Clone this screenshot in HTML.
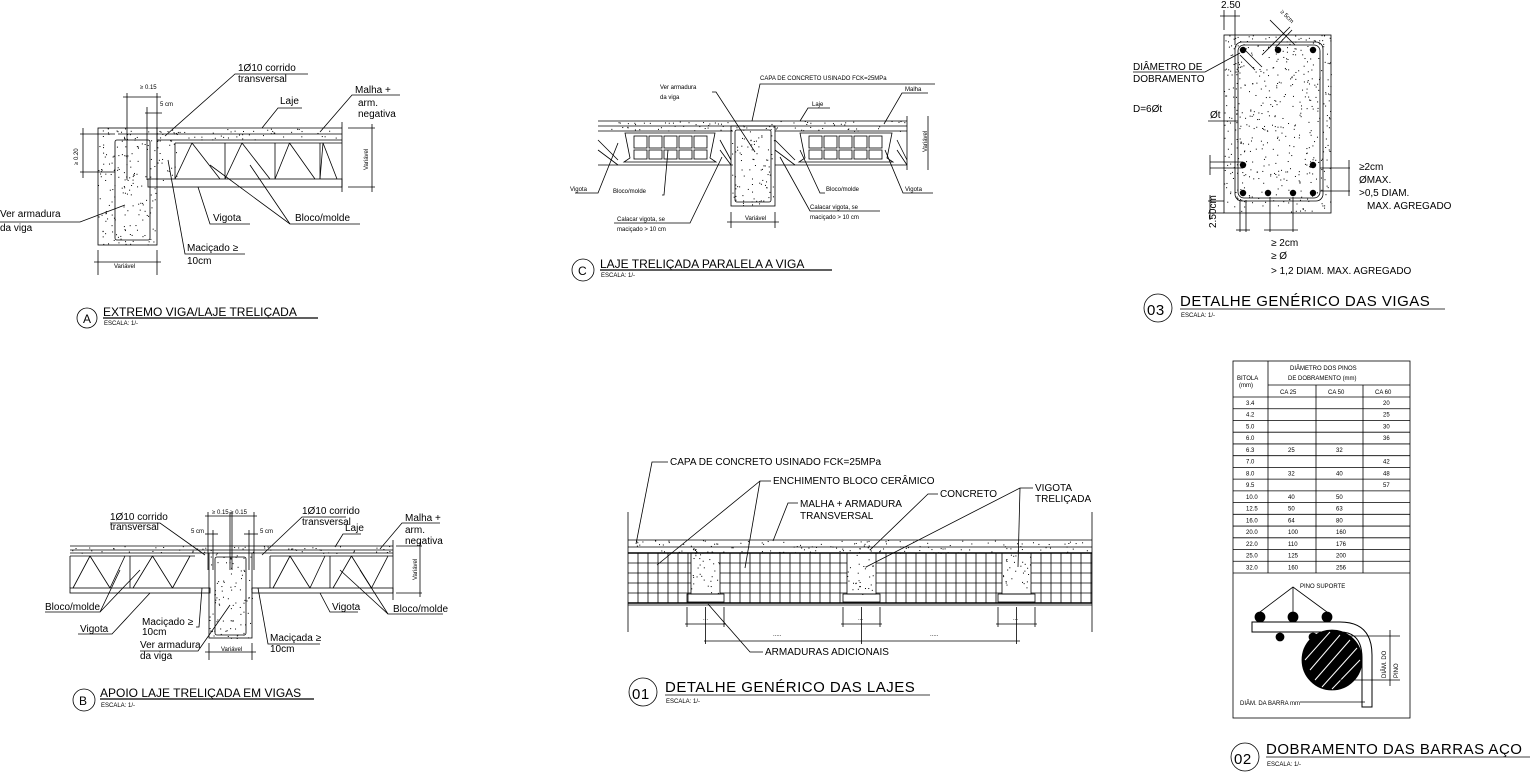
<!DOCTYPE html>
<html><head><meta charset="utf-8"><style>
html,body{margin:0;padding:0;background:#fff;}
svg{display:block;font-family:"Liberation Sans",sans-serif;}
text{fill:#000;}
.s{font-size:10px;}
.xs{font-size:6px;}
.t{font-size:12px;}
.tb{font-size:15px;letter-spacing:0.5px;}
</style></head><body>
<svg id="d" width="1535" height="775" viewBox="0 0 1535 775" stroke="#000" fill="none" stroke-width="0.8">
<!-- ===== A ===== -->
<g id="A">
<rect x="98" y="128" width="59" height="117"/>
<rect x="115" y="140" width="35" height="100" rx="2"/>
<line x1="157" y1="128" x2="342" y2="128"/>
<line x1="118" y1="134" x2="342" y2="134"/>
<line x1="157" y1="140" x2="342" y2="140"/>
<rect x="148" y="179" width="194" height="8"/>
<line x1="175" y1="143" x2="342" y2="143"/>
<line x1="342" y1="122" x2="342" y2="192"/>
<line x1="348" y1="128" x2="375" y2="128"/><line x1="348" y1="187" x2="375" y2="187"/>
<line x1="372" y1="124" x2="372" y2="192"/>
<text class="xs" transform="translate(368,170) rotate(-90)" stroke="none">Variável</text>
<line x1="98" y1="250" x2="98" y2="275"/><line x1="157" y1="250" x2="157" y2="275"/>
<line x1="94" y1="262" x2="161" y2="262"/>
<text class="xs" x="114" y="268" stroke="none">Variável</text>
<line x1="80" y1="134" x2="115" y2="134"/><line x1="80" y1="172" x2="115" y2="172"/>
<line x1="83" y1="128" x2="83" y2="178"/>
<text class="xs" transform="translate(78,165) rotate(-90)" stroke="none">≥ 0.20</text>
<line x1="127" y1="93" x2="127" y2="180"/><line x1="157" y1="93" x2="157" y2="180"/>
<line x1="123" y1="97" x2="161" y2="97"/>
<text class="xs" x="140" y="89" stroke="none">≥ 0.15</text>
<line x1="147" y1="107" x2="147" y2="180"/>
<line x1="145" y1="113" x2="162" y2="113"/>
<text class="xs" x="160" y="106" stroke="none">5 cm</text>
<text class="s" x="238" y="71" stroke="none">1Ø10 corrido</text>
<text class="s" x="238" y="82" stroke="none">transversal</text>
<polyline points="308,74 235,74 165,136"/>
<text class="s" x="280" y="104" stroke="none">Laje</text>
<polyline points="302,108 278,108 262,128"/>
<text class="s" x="355" y="93" stroke="none">Malha +</text>
<text class="s" x="358" y="106" stroke="none">arm.</text>
<text class="s" x="358" y="117" stroke="none">negativa</text>
<polyline points="400,95 352,95 320,132"/>
<text class="s" x="0" y="217" stroke="none">Ver armadura</text>
<text class="s" x="0" y="231" stroke="none">da viga</text>
<polyline points="0,222 80,222 125,205"/>
<text class="s" x="213" y="221" stroke="none">Vigota</text>
<polyline points="250,224 210,224 198,187"/>
<text class="s" x="295" y="221" stroke="none">Bloco/molde</text>
<polyline points="360,224 290,224 210,165"/><line x1="290" y1="224" x2="250" y2="165"/>
<text class="s" x="187" y="251" stroke="none">Maciçado  ≥</text>
<text class="s" x="187" y="264" stroke="none">10cm</text>
<polyline points="245,254 185,254 168,160"/>
<circle cx="87" cy="318" r="10"/>
<text class="t" x="83" y="323" stroke="none">A</text>
<text class="t" x="103" y="316" stroke="none">EXTREMO VIGA/LAJE TRELIÇADA</text>
<line x1="103" y1="318" x2="318" y2="318" stroke-width="1.2"/>
<text class="xs" x="104" y="325" stroke="none">ESCALA: 1/-</text>
</g>
<!-- ===== C ===== -->
<g>
<line x1="598" y1="121" x2="907" y2="121"/><line x1="598" y1="126" x2="907" y2="126"/>
<line x1="598" y1="131" x2="733" y2="131"/><line x1="775" y1="131" x2="907" y2="131"/>
<line x1="598" y1="165" x2="733" y2="165"/><line x1="775" y1="165" x2="907" y2="165"/>
<rect x="731" y="126" width="44" height="80"/>
<rect x="735" y="130" width="36" height="72" rx="2"/>
<g id="blkC"></g>
<line x1="907" y1="116" x2="907" y2="170"/>
<line x1="928" y1="116" x2="928" y2="170"/>
<text class="xs" transform="translate(927,152) rotate(-90)" stroke="none">Variável</text>
<line x1="731" y1="212" x2="731" y2="228"/><line x1="775" y1="212" x2="775" y2="228"/>
<line x1="727" y1="222" x2="779" y2="222"/>
<text class="xs" x="745" y="220" stroke="none">Variável</text>
<text class="xs" x="660" y="89" stroke="none" font-size="7">Ver armadura</text>
<text class="xs" x="660" y="99" stroke="none" font-size="7">da viga</text>
<polyline points="712,92 716,92 755,152"/>
<text class="xs" x="760" y="80" stroke="none" font-size="8">CAPA DE CONCRETO USINADO FCK=25MPa</text>
<polyline points="935,84 760,84 752,121"/>
<text class="xs" x="812" y="106" stroke="none" font-size="8">Laje</text>
<polyline points="830,108 808,108 800,121"/>
<text class="xs" x="905" y="91" stroke="none" font-size="8">Malha</text>
<polyline points="928,93 902,93 884,124"/>
<text class="xs" x="570" y="191" stroke="none" font-size="8">Vigota</text>
<polyline points="575,193 598,193 618,143"/>
<text class="xs" x="613" y="193" stroke="none" font-size="7">Bloco/molde</text>
<polyline points="662,195 664,195 668,150"/>
<text class="xs" x="826" y="191" stroke="none" font-size="8">Bloco/molde</text>
<polyline points="825,193 820,193 800,150"/>
<text class="xs" x="905" y="191" stroke="none" font-size="8">Vigota</text>
<polyline points="933,193 903,193 885,150"/>
<text class="xs" x="617" y="221" stroke="none" font-size="7">Calacar vigota, se</text>
<text class="xs" x="617" y="231" stroke="none" font-size="7">maciçado &gt; 10 cm</text>
<polyline points="614,223 690,223 722,157"/>
<text class="xs" x="810" y="209" stroke="none" font-size="7">Calacar vigota, se</text>
<text class="xs" x="810" y="219" stroke="none" font-size="7">maciçado &gt; 10 cm</text>
<polyline points="880,211 810,211 780,157"/>
<circle cx="583" cy="270" r="11"/>
<text class="t" x="578" y="275" stroke="none">C</text>
<text class="t" x="600" y="268" stroke="none">LAJE TRELIÇADA PARALELA A VIGA</text>
<line x1="600" y1="270" x2="832" y2="270" stroke-width="1.2"/>
<text class="xs" x="601" y="277" stroke="none">ESCALA: 1/-</text>
</g>
<!-- ===== 03 ===== -->
<g>
<rect x="1224" y="35" width="107" height="178"/>
<rect x="1235" y="42" width="88" height="159" rx="7"/>
<rect x="1238" y="45" width="82" height="153" rx="6"/>
<g fill="#000" stroke="none">
<circle cx="1243" cy="50" r="3.2"/><circle cx="1278" cy="50" r="3.2"/><circle cx="1313" cy="50" r="3.2"/>
<circle cx="1243" cy="165" r="3.2"/><circle cx="1313" cy="165" r="3.2"/>
<circle cx="1243" cy="193" r="3.2"/><circle cx="1268" cy="193" r="3.2"/><circle cx="1293" cy="193" r="3.2"/><circle cx="1313" cy="193" r="3.2"/>
</g>
<line x1="1240" y1="55" x2="1255" y2="70"/><line x1="1245" y1="50" x2="1262" y2="67"/>
<line x1="1235" y1="10" x2="1235" y2="45"/><line x1="1224" y1="10" x2="1224" y2="30"/>
<line x1="1220" y1="16" x2="1240" y2="16"/>
<text class="s" x="1221" y="8" stroke="none">2.50</text>
<line x1="1262" y1="55" x2="1290" y2="27"/><line x1="1275" y1="48" x2="1292" y2="30"/>
<line x1="1270" y1="20" x2="1295" y2="45"/>
<text class="xs" transform="translate(1280,12) rotate(45)" stroke="none" font-size="8">≥ 5cm</text>
<text class="s" x="1133" y="70" stroke="none">DIÂMETRO  DE</text>
<text class="s" x="1133" y="82" stroke="none">DOBRAMENTO</text>
<polyline points="1133,72 1205,72 1240,53"/>
<text class="s" x="1133" y="112" stroke="none">D=6Øt</text>
<text class="s" x="1210" y="118" stroke="none">Øt</text>
<line x1="1208" y1="121" x2="1238" y2="121"/>
<line x1="1210" y1="162" x2="1243" y2="162"/><line x1="1210" y1="168" x2="1243" y2="168"/>
<line x1="1210" y1="155" x2="1210" y2="175"/>
<line x1="1320" y1="168" x2="1350" y2="168"/><line x1="1320" y1="191" x2="1350" y2="191"/>
<line x1="1349" y1="160" x2="1349" y2="196"/>
<text class="s" x="1359" y="170" stroke="none">≥2cm</text>
<text class="s" x="1359" y="183" stroke="none">ØMAX.</text>
<text class="s" x="1359" y="196" stroke="none">&gt;0,5  DIAM.</text>
<text class="s" x="1367" y="209" stroke="none">MAX.  AGREGADO</text>
<line x1="1208" y1="201" x2="1224" y2="201"/><line x1="1208" y1="213" x2="1224" y2="213"/>
<line x1="1210" y1="195" x2="1210" y2="220"/>
<text class="s" transform="translate(1216,228) rotate(-90)" stroke="none">2.50cm</text>
<line x1="1240" y1="200" x2="1240" y2="232"/><line x1="1246" y1="200" x2="1246" y2="232"/>
<line x1="1270" y1="197" x2="1270" y2="232"/><line x1="1293" y1="197" x2="1293" y2="232"/>
<line x1="1264" y1="230" x2="1298" y2="230"/><line x1="1236" y1="230" x2="1250" y2="230"/>
<text class="s" x="1271" y="246" stroke="none">≥  2cm</text>
<text class="s" x="1271" y="259" stroke="none">≥  Ø</text>
<text class="s" x="1271" y="274" stroke="none">&gt;  1,2  DIAM.  MAX.  AGREGADO</text>
<circle cx="1158" cy="308" r="14"/>
<text class="tb" x="1147" y="315" stroke="none">03</text>
<text class="tb" x="1180" y="306" stroke="none">DETALHE GENÉRICO DAS VIGAS</text>
<line x1="1180" y1="309" x2="1445" y2="309"/>
<text class="xs" x="1181" y="317" stroke="none">ESCALA: 1/-</text>
</g>
<!-- ===== 02 table ===== -->
<g>
<rect x="1233" y="361" width="177" height="357"/>
<line x1="1268" y1="361" x2="1268" y2="573"/>
<line x1="1316" y1="385" x2="1316" y2="573"/>
<line x1="1363" y1="385" x2="1363" y2="573"/>
<line x1="1268" y1="385" x2="1410" y2="385"/>
<line x1="1233" y1="397" x2="1410" y2="397"/>
<line x1="1233" y1="573" x2="1410" y2="573"/>
<g id="rows"></g>
<text class="xs" x="1290" y="370" stroke="none">DIÂMETRO DOS PINOS</text>
<text class="xs" x="1288" y="380" stroke="none">DE DOBRAMENTO (mm)</text>
<text class="xs" x="1237" y="380" stroke="none">BITOLA</text>
<text class="xs" x="1239" y="387" stroke="none">(mm)</text>
<text class="xs" x="1280" y="394" stroke="none" font-size="8">CA 25</text>
<text class="xs" x="1328" y="394" stroke="none" font-size="8">CA 50</text>
<text class="xs" x="1375" y="394" stroke="none" font-size="8">CA 60</text>
<g id="cells" class="xs" stroke="none"></g>
<path d="M1252,622 L1340,622 Q1372,622 1372,655 L1372,707 L1362,707 L1362,658 Q1362,632 1340,632 L1252,632 Z" stroke-width="1"/>
<circle cx="1332" cy="660" r="30" fill="#000"/>
<g stroke="#fff" stroke-width="1">
<line x1="1310" y1="670" x2="1340" y2="635"/><line x1="1315" y1="680" x2="1350" y2="640"/><line x1="1322" y1="687" x2="1357" y2="648"/><line x1="1332" y1="689" x2="1360" y2="660"/><line x1="1305" y1="660" x2="1330" y2="632"/>
</g>
<g fill="#000"><circle cx="1260" cy="617" r="5"/><circle cx="1293" cy="617" r="5"/><circle cx="1327" cy="617" r="5"/><circle cx="1280" cy="637" r="4"/><circle cx="1313" cy="637" r="4"/></g>
<polyline points="1260,612 1293,587 1327,612"/><line x1="1293" y1="587" x2="1293" y2="612"/>
<text class="xs" x="1300" y="588" stroke="none">PINO SUPORTE</text>
<line x1="1340" y1="636" x2="1400" y2="636"/><line x1="1340" y1="680" x2="1400" y2="680"/>
<line x1="1390" y1="630" x2="1390" y2="686"/>
<text class="xs" transform="translate(1386,678) rotate(-90)" stroke="none">DIÂM. DO</text>
<text class="xs" transform="translate(1398,678) rotate(-90)" stroke="none">PINO</text>
<text class="xs" x="1240" y="705" stroke="none">DIÂM. DA BARRA mm</text>
<line x1="1300" y1="702" x2="1365" y2="702"/>
<circle cx="1245" cy="757" r="14"/>
<text class="tb" x="1234" y="764" stroke="none">02</text>
<text class="tb" x="1266" y="754" stroke="none">DOBRAMENTO DAS BARRAS AÇO</text>
<line x1="1266" y1="757" x2="1530" y2="757"/>
<text class="xs" x="1267" y="766" stroke="none">ESCALA: 1/-</text>
</g>
<!-- ===== 01 ===== -->
<g>
<line x1="628" y1="512" x2="628" y2="632"/><line x1="1092" y1="512" x2="1092" y2="632"/>
<line x1="628" y1="540" x2="1092" y2="540"/><line x1="628" y1="547" x2="1092" y2="547"/>
<line x1="628" y1="553" x2="1092" y2="553" stroke-width="1.4"/>
<line x1="628" y1="603" x2="1092" y2="603" stroke-width="1.4"/>
<line x1="628" y1="605" x2="1092" y2="605"/>
<g id="grid01"></g>
<text class="s" x="670" y="465" stroke="none">CAPA  DE  CONCRETO  USINADO  FCK=25MPa</text>
<polyline points="668,462 652,462 636,544"/>
<text class="s" x="773" y="484" stroke="none">ENCHIMENTO  BLOCO  CERÂMICO</text>
<polyline points="771,481 760,481 657,565"/><line x1="760" y1="481" x2="745" y2="568"/>
<text class="s" x="800" y="507" stroke="none">MALHA  +  ARMADURA</text>
<text class="s" x="800" y="519" stroke="none">TRANSVERSAL</text>
<polyline points="798,503 788,503 773,541"/>
<text class="s" x="940" y="497" stroke="none">CONCRETO</text>
<polyline points="938,494 928,494 870,550"/>
<text class="s" x="1035" y="491" stroke="none">VIGOTA</text>
<text class="s" x="1035" y="502" stroke="none">TRELIÇADA</text>
<polyline points="1033,488 1020,488 866,567"/><line x1="1020" y1="488" x2="1018" y2="567"/>
<text class="s" x="765" y="655" stroke="none">ARMADURAS  ADICIONAIS</text>
<polyline points="763,652 750,652 708,604"/>
<g id="dim01"></g>
<text class="xs" x="703" y="620" stroke="none">...</text><text class="xs" x="858" y="620" stroke="none">...</text><text class="xs" x="1013" y="620" stroke="none">...</text>
<text class="xs" x="773" y="636" stroke="none">.....</text><text class="xs" x="930" y="636" stroke="none">.....</text>
<circle cx="643" cy="692" r="14"/>
<text class="tb" x="632" y="699" stroke="none">01</text>
<text class="tb" x="665" y="692" stroke="none">DETALHE GENÉRICO DAS LAJES</text>
<line x1="665" y1="695" x2="930" y2="695"/>
<text class="xs" x="666" y="703" stroke="none">ESCALA: 1/-</text>
</g>
<!-- ===== B ===== -->
<g>
<line x1="70" y1="546" x2="393" y2="546"/><line x1="70" y1="550" x2="393" y2="550"/>
<line x1="70" y1="553" x2="209" y2="553"/><line x1="252" y1="553" x2="393" y2="553"/>
<line x1="70" y1="556" x2="195" y2="556"/><line x1="270" y1="556" x2="393" y2="556"/>
<rect x="70" y="588" width="140" height="5"/><rect x="252" y="588" width="141" height="5"/>
<rect x="209" y="553" width="43" height="85"/>
<rect x="215" y="557" width="31" height="78" rx="2"/>
<g id="trussB"></g>
<line x1="393" y1="540" x2="393" y2="600"/>
<line x1="396" y1="546" x2="422" y2="546"/><line x1="396" y1="593" x2="422" y2="593"/>
<line x1="420" y1="542" x2="420" y2="597"/>
<text class="xs" transform="translate(417,580) rotate(-90)" stroke="none">Variável</text>
<line x1="209" y1="643" x2="209" y2="660"/><line x1="252" y1="643" x2="252" y2="660"/>
<line x1="205" y1="652" x2="256" y2="652"/>
<text class="xs" x="221" y="651" stroke="none">Variável</text>
<line x1="208" y1="512" x2="208" y2="570"/><line x1="230" y1="512" x2="230" y2="570"/><line x1="232" y1="512" x2="232" y2="570"/><line x1="254" y1="512" x2="254" y2="570"/>
<line x1="205" y1="516" x2="257" y2="516"/>
<text class="xs" x="212" y="514" stroke="none">≥ 0.15 ≥ 0.15</text>
<line x1="213" y1="530" x2="213" y2="570"/><line x1="249" y1="530" x2="249" y2="570"/>
<line x1="205" y1="534" x2="218" y2="534"/><line x1="244" y1="534" x2="258" y2="534"/>
<text class="xs" x="191" y="533" stroke="none">5 cm</text><text class="xs" x="260" y="533" stroke="none">5 cm</text>
<text class="s" x="110" y="520" stroke="none">1Ø10 corrido</text>
<text class="s" x="110" y="530" stroke="none">transversal</text>
<polyline points="110,523 160,523 205,555"/>
<text class="s" x="302" y="514" stroke="none">1Ø10 corrido</text>
<text class="s" x="302" y="525" stroke="none">transversal</text>
<polyline points="346,517 302,517 262,555"/>
<text class="s" x="345" y="531" stroke="none">Laje</text>
<polyline points="361,534 343,534 335,547"/>
<text class="s" x="405" y="521" stroke="none">Malha +</text>
<text class="s" x="405" y="533" stroke="none">arm.</text>
<text class="s" x="405" y="544" stroke="none">negativa</text>
<polyline points="440,523 402,523 380,549"/>
<text class="s" x="45" y="610" stroke="none">Bloco/molde</text>
<polyline points="45,612 100,612 140,570"/><line x1="100" y1="612" x2="120" y2="570"/>
<text class="s" x="80" y="632" stroke="none">Vigota</text>
<polyline points="78,634 112,634 150,593"/>
<text class="s" x="142" y="625" stroke="none">Maciçado  ≥</text>
<text class="s" x="142" y="635" stroke="none">10cm</text>
<polyline points="196,627 199,627 202,588"/>
<text class="s" x="140" y="648" stroke="none">Ver armadura</text>
<text class="s" x="140" y="659" stroke="none">da viga</text>
<polyline points="140,651 198,651 230,605"/>
<text class="s" x="332" y="610" stroke="none">Vigota</text>
<polyline points="358,612 330,612 320,593"/>
<text class="s" x="393" y="612" stroke="none">Bloco/molde</text>
<polyline points="443,614 388,614 340,570"/><line x1="388" y1="614" x2="360" y2="570"/>
<text class="s" x="270" y="641" stroke="none">Maciçada  ≥</text>
<text class="s" x="270" y="652" stroke="none">10cm</text>
<polyline points="320,644 268,644 258,588"/>
<circle cx="84" cy="700" r="11"/>
<text class="t" x="79" y="705" stroke="none">B</text>
<text class="t" x="100" y="697" stroke="none">APOIO LAJE TRELIÇADA EM VIGAS</text>
<line x1="100" y1="699" x2="314" y2="699" stroke-width="1.2"/>
<text class="xs" x="101" y="707" stroke="none">ESCALA: 1/-</text>
</g>
<g id="dots" fill="#000" stroke="none"></g>
</svg>
<script>
var NS="http://www.w3.org/2000/svg";
function el(p,t,a){var e=document.createElementNS(NS,t);for(var k in a)e.setAttribute(k,a[k]);document.getElementById(p).appendChild(e);return e;}
function L(p,x1,y1,x2,y2){el(p,"line",{x1:x1,y1:y1,x2:x2,y2:y2});}
var y=397,h=(573-397)/15;
for(var i=1;i<15;i++){L("rows",1233,y+i*h,1410,y+i*h);}
var d=[["3.4","","","20"],["4.2","","","25"],["5.0","","","30"],["6.0","","","36"],["6.3","25","32",""],["7.0","","","42"],["8.0","32","40","48"],["9.5","","","57"],["10.0","40","50",""],["12.5","50","63",""],["16.0","64","80",""],["20.0","100","160",""],["22.0","110","176",""],["25.0","125","200",""],["32.0","160","256",""]];
var cx=[1246,1288,1336,1383];
for(var i=0;i<15;i++)for(var j=0;j<4;j++){if(d[i][j]){var t=el("cells","text",{x:cx[j],y:y+i*h+8});t.textContent=d[i][j];}}
[[175,225],[225,275],[275,320],[320,342]].forEach(function(s){var a=s[0],b=s[1],m=(a+b)/2;L("A",a,143,a,179);L("A",a,179,m-8,143);L("A",m-8,143,b-5,179);});
[[70,130],[130,195],[270,330],[330,393]].forEach(function(s){var a=s[0],b=s[1],m=(a+b)/2;L("trussB",a,556,a,588);L("trussB",a+3,588,m-10,556);L("trussB",m-10,556,m+10,588);L("trussB",m+10,588,b-5,556);});
[[622,718],[797,895]].forEach(function(s){var a=s[0],b=s[1];el("blkC","path",{d:"M"+(a+3)+",133 L"+(b-3)+",133 L"+(b-8)+",158 L"+(b-2)+",162 L"+(a+2)+",162 L"+(a+8)+",158 Z"});for(var x=a+12;x<b-14;x+=15){el("blkC","rect",{x:x,y:136,width:13,height:12});el("blkC","rect",{x:x,y:150,width:13,height:9});}});
[[598,618],[720,731],[775,795],[897,907]].forEach(function(s){L("blkC",s[0],150,s[1],165);L("blkC",s[0],140,s[1],160);});
var beams=[[691,720],[847,876],[1002,1031]];
var segs=[[628,691],[720,847],[876,1002],[1031,1092]];
segs.forEach(function(s){for(var x=s[0]+10;x<s[1];x+=10)L("grid01",x,553,x,603);for(var yy=563;yy<603;yy+=10)L("grid01",s[0],yy,s[1],yy);});
beams.forEach(function(b){el("grid01","rect",{x:b[0],y:553,width:b[1]-b[0],height:41});el("grid01","rect",{x:b[0]-4,y:594,width:b[1]-b[0]+8,height:8});
L("dim01",b[0]-4,607,b[0]-4,627);L("dim01",b[1]+4,607,b[1]+4,627);L("dim01",b[0]-6,624,b[1]+6,624);L("dim01",(b[0]+b[1])/2,607,(b[0]+b[1])/2,644);});
L("dim01",704,641,1020,641);
var rs=[[98,128,59,117],[157,128,185,12],[157,140,20,40],[598,121,309,10],[731,126,44,80],[1224,35,107,178],[70,546,323,7],[209,553,43,85],[628,540,464,13],[691,553,29,41],[847,553,29,41],[1002,553,29,41]];
var seed=7;function rnd(){seed=(seed*9301+49297)%233280;return seed/233280;}
rs.forEach(function(r){var n=Math.floor(r[2]*r[3]/40);for(var i=0;i<n;i++)el("dots","rect",{x:r[0]+rnd()*r[2],y:r[1]+rnd()*r[3],width:1,height:1});});
</script>
</body></html>
